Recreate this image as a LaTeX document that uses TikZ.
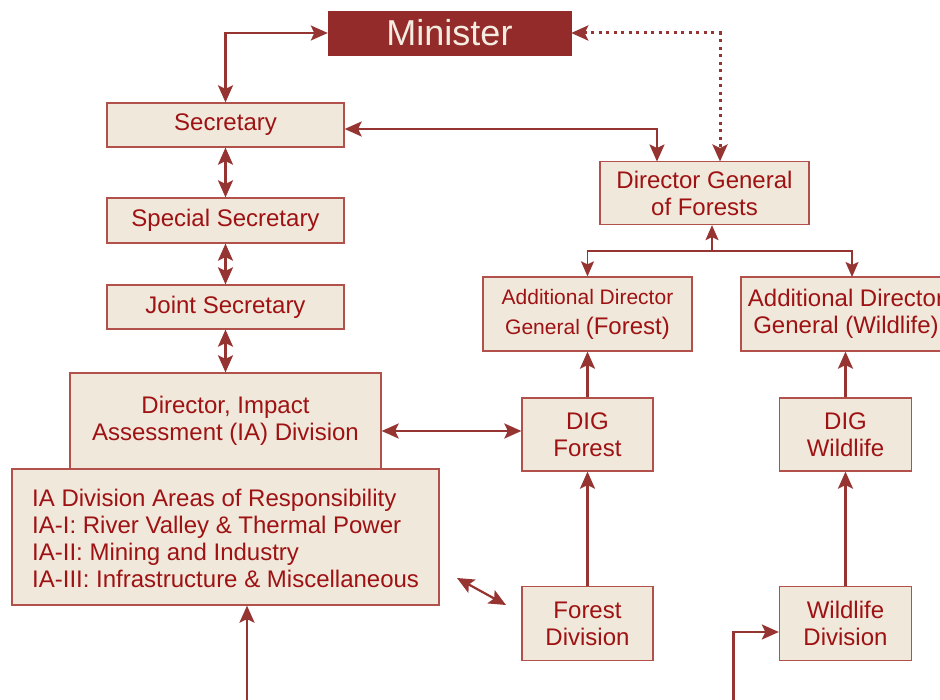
\documentclass[tikz,border=0pt]{standalone}
\usepackage{fontspec}
\setmainfont{Liberation Sans}
\usetikzlibrary{arrows.meta}
\definecolor{linecol}{RGB}{150,52,50}
\definecolor{minfill}{RGB}{146,43,42}
\definecolor{boxfill}{RGB}{240,232,218}
\definecolor{boxdraw}{RGB}{178,80,76}
\definecolor{txtcol}{RGB}{158,18,20}
\definecolor{mintxt}{RGB}{244,236,224}
\tikzset{
  box/.style={draw=boxdraw, fill=boxfill, line width=1.3pt, text=txtcol, inner sep=0pt, align=center, font=\fontsize{24}{27}\selectfont},
  txt/.style={text=txtcol, inner sep=0pt, font=\fontsize{24}{27}\selectfont},
  conn/.style={draw=linecol, line width=2.2pt, >={Stealth[length=17pt,width=15pt,inset=3.5pt]}},
  connthin/.style={draw=linecol, line width=1.7pt, >={Stealth[length=15pt,width=13pt,inset=3pt]}},
  dotline/.style={draw=linecol, line width=3pt, dash pattern=on 3pt off 4.5pt, >={Stealth[length=17pt,width=15pt,inset=3.5pt]}}
}
\begin{document}
\begin{tikzpicture}[x=1pt,y=-1pt]
\useasboundingbox[fill=white] (0,0) rectangle (940,700);
% nodes
\node[draw=minfill, fill=minfill, inner sep=0pt, text=mintxt, minimum width=243, minimum height=44, font=\fontsize{36}{40}\selectfont] (min) at (449.5,33) {Minister};
\node[box, minimum width=237, minimum height=44] (sec) at (225.5,125) {Secretary};
\node[box, minimum width=237, minimum height=45] (spec) at (225.5,220.5) {Special Secretary};
\node[box, minimum width=237, minimum height=44] (joint) at (225.5,307) {Joint Secretary};
\node[box, minimum width=311, minimum height=96] (dir) at (225.5,421) {Director, Impact\\Assessment (IA) Division};
\node[box, minimum width=427, minimum height=136] (areas) at (225.5,537) {};
\node[txt, anchor=west, align=left] (areastxt) at (32,538) {IA Division Areas of Responsibility\\IA-I: River Valley \& Thermal Power\\IA-II: Mining and Industry\\IA-III: Infrastructure \& Miscellaneous};
\node[box, minimum width=209, minimum height=63] (dg) at (704.5,193) {Director General\\of Forests};
\node[box, minimum width=209, minimum height=74] (adgf) at (587.5,314) {\fontsize{21}{27}\selectfont Additional Director\\[3pt]\fontsize{21}{27}\selectfont General {\fontsize{24}{27}\selectfont(Forest)}};
\node[box, minimum width=210, minimum height=74] (adgw) at (846,314) {Additional Director\\General (Wildlife)};
\node[box, minimum width=131, minimum height=73] (digf) at (587.5,434.5) {DIG\\Forest};
\node[box, minimum width=132, minimum height=73] (digw) at (845.5,434.5) {DIG\\Wildlife};
\node[box, minimum width=131, minimum height=74] (fdiv) at (587.5,623.5) {Forest\\Division};
\node[box, minimum width=132, minimum height=74] (wdiv) at (845.5,623.5) {Wildlife\\Division};
% coordinates
\coordinate (dgdot) at (720,161.5);
\coordinate (dgsec) at (657,161.5);
\coordinate (d1) at (457,578);
\coordinate (d2) at (506,605);
\coordinate (b1) at (247,700);
\coordinate (j) at (712,251);
\coordinate (adgwin) at (852,277);
\coordinate (b2) at (733.5,700);
% connectors
\draw[conn,<->] (min.west) -| (sec.north);
\draw[dotline,<->] (min.east) -| (dgdot);
\draw[conn,<->] ([yshift=-4pt]sec.east) -| (dgsec);
\draw[conn,<->] (sec) -- (spec);
\draw[conn,<->] (spec) -- (joint);
\draw[conn,<->] (joint) -- (dir);
\draw[conn,<->] ([yshift=-10pt]dir.east) -- ([yshift=-10pt]dir.east -| digf.west);
\draw[conn,<->] (d1) -- (d2);
\draw[conn,->] (b1) -- (b1 |- areas.south);
\draw[connthin,->] (j) -- (j |- dg.south);
\draw[connthin,->] (j) -| (adgf.north);
\draw[connthin,->] (j) -| (adgwin);
\draw[conn,->] (digf) -- (adgf);
\draw[conn,->] (fdiv) -- (digf);
\draw[conn,->] (digw.north) -- (digw.north |- adgw.south);
\draw[conn,->] (wdiv) -- (digw);
\draw[conn,->] (b2) |- ([yshift=-8.5pt]wdiv.west);
\end{tikzpicture}
\end{document}
